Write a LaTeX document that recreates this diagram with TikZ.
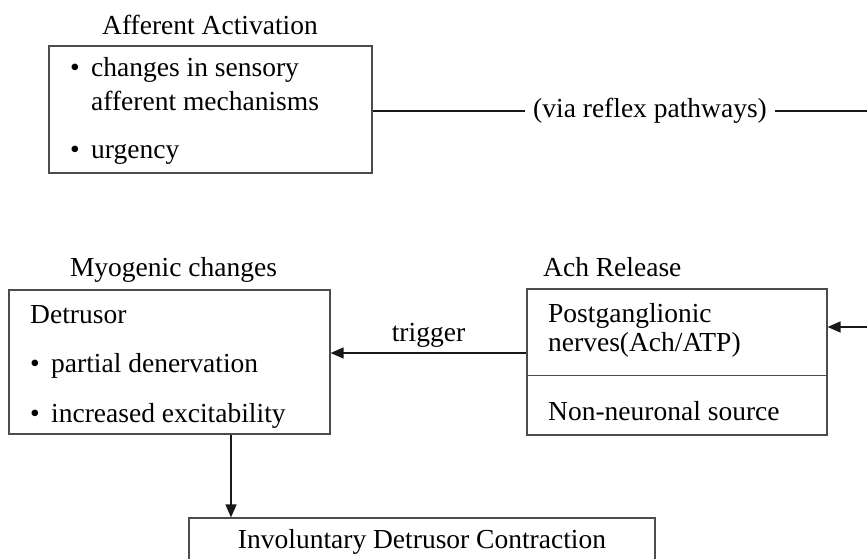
\documentclass[tikz,border=0pt]{standalone}
\usepackage{fontspec}
\setmainfont{Liberation Serif}
\usetikzlibrary{arrows.meta}
\newcommand\diagfont{\fontsize{27.5}{33}\selectfont}
\newcommand\bul{\makebox[21pt][l]{•}}
\tikzset{
  box/.style={draw=black!70, line width=1.2pt, rectangle, inner sep=0pt},
  txt/.style={anchor=base west, inner sep=0pt, font=\diagfont},
  ttl/.style={anchor=base, inner sep=0pt, font=\diagfont},
  conn/.style={draw=black!90, line width=1.4pt},
  arr/.style={conn, -{Triangle[length=13pt,width=11pt]}},
}
\begin{document}
\begin{tikzpicture}[x=1pt,y=-1pt]
\useasboundingbox (0,0) rectangle (867,559);
\clip (0,0) rectangle (867,559);
\fill[white] (0,0) rectangle (867,559);

% Afferent Activation
\node[ttl] (afft) at (210,35) {Afferent Activation};
\node[box, minimum width=323pt, minimum height=127pt] (aff) at (210.5,109.5) {};
\node[txt] (a1) at (70,77) {\bul changes in sensory};
\node[txt] (a2) at (91,111) {afferent mechanisms};
\node[txt] (a3) at (70,158) {\bul urgency};

% via reflex pathways
\node[anchor=west, inner xsep=8pt, inner ysep=0pt, font=\diagfont] (via) at (525,111) {(via reflex pathways)};
\coordinate (re1) at (867,111);
\coordinate (re2) at (867,327);
\draw[conn] (aff.east |- via.west) -- (via.west);
\draw[conn] (via.east) -- (re1);

% Myogenic changes
\node[ttl] (myot) at (173.5,276) {Myogenic changes};
\node[box, minimum width=321pt, minimum height=144pt] (det) at (169.5,362) {};
\node[txt] (d1) at (30,323) {Detrusor};
\node[txt] (d2) at (30,372) {\bul partial denervation};
\node[txt] (d3) at (30,422) {\bul increased excitability};

% Ach Release
\node[txt] (acht) at (543,276) {Ach Release};
\node[box, minimum width=300pt, minimum height=146pt] (ach) at (677,362) {};
\path (ach.north west) ++(0,87) coordinate (dvl);
\path (ach.north east) ++(0,87) coordinate (dvr);
\draw[box] (dvl) -- (dvr);
\node[txt] (p1) at (548,322) {Postganglionic};
\node[txt] (p2) at (548,351) {nerves(Ach/ATP)};
\node[txt] (p3) at (548,420) {Non-neuronal source};

% Involuntary Detrusor Contraction
\node[box, minimum width=466pt, minimum height=80pt] (inv) at (422,558) {};
\node[ttl] (invt) at (422,548) {Involuntary Detrusor Contraction};

% connectors
\draw[arr] ([yshift=9pt]ach.west) -- node[midway, above, inner sep=5pt, font=\diagfont] {trigger} ([yshift=9pt]det.east);
\draw[arr] (re2) -- (ach.east |- re2);
\draw[arr] ([xshift=61.5pt]det.south) -- ([xshift=61.5pt]det.south |- inv.north);
\end{tikzpicture}
\end{document}
